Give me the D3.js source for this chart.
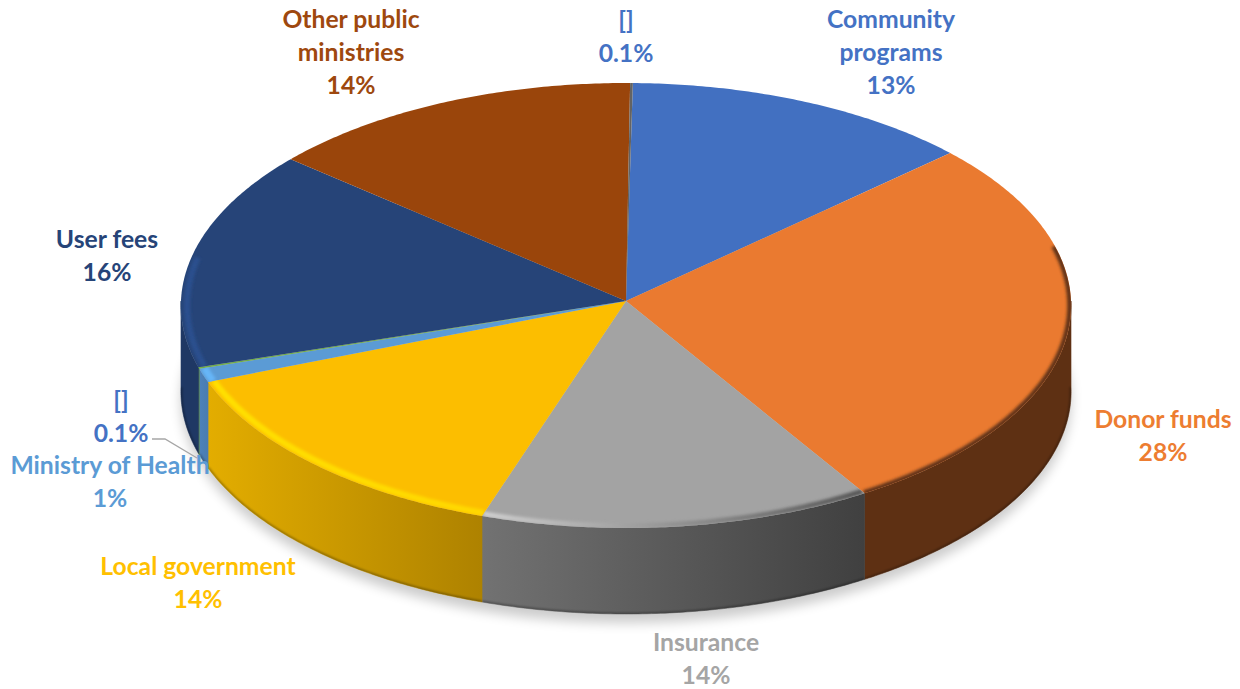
<!DOCTYPE html>
<html>
<head>
<meta charset="utf-8">
<title>Funding sources</title>
<script src="https://cdn.jsdelivr.net/npm/d3@7/dist/d3.min.js"></script>
<style>
html,body{margin:0;padding:0;background:#fff;}
svg{display:block;}
text{font-family:Lato,"Open Sans",sans-serif;font-weight:700;font-size:24.7px;text-anchor:middle;}
</style>
</head>
<body>
<svg id="chart" width="1240" height="689"></svg>
<script>
// Funding shares, clockwise from the top of the disc
const sources = ["Community programs","Donor funds","Insurance","Local government","Ministry of Health","[]","User fees","Other public ministries","[]"];
const shares = [13,28,14,14,1,0.1,16,14,0.1];
const topColors = ["#4270c1","#ea7a30","#a3a3a3","#fcbe00","#5b9bd5","#70ad47","#264478","#9a450b","#636363"];
const sideLeft = ["#2b4a80","#5e3013","#727272","#e3ad00","#4d82bb","#4f7c33","#1f3864","#5f2c09","#3c3c3c"];
const sideRight = ["#2b4a80","#5e3013","#404040","#ae8200","#4a7cb0","#4f7c33","#1f3864","#5f2c09","#3c3c3c"];
const labelColors = ["#4472c4","#ed7d31","#a5a5a5","#ffc000","#5b9bd5","#4472c4","#264478","#9e480e","#4472c4"];
const labelLines = [["Community","programs"],["Donor funds"],["Insurance"],["Local government"],["Ministry of Health"],["[]"],["User fees"],["Other public","ministries"],["[]"]];

// Centre of each label block: x and the y of its first line
const labelAnchors = [[891,19],[1163,419],[706,642],[198,566],[110,465],[121,400],[107,239],[351,19],[626,20]];
const lineStep = 32.8;

const apex = {x:626, y:301};
const radiusX = 445, radiusY = 222.4, tilt = 0.0202, depth = 86;
const startAngle = 0.9 * Math.PI / 180;

const svg = d3.select("#chart");
const defs = svg.append("defs");

// Perspective view of a flat disc: angle clockwise from the far edge, r as a fraction of the rim
function project(angle, r = 1, drop = 0) {
  const across = r * Math.sin(angle), along = r * Math.cos(angle);
  const w = 1 + tilt * along;
  return [apex.x + radiusX * across / w, apex.y - radiusY * along / w + drop];
}
function arcPoints(a0, a1, r = 1, drop = 0) {
  const n = Math.max(2, Math.ceil(Math.abs(a1 - a0) / 0.01));
  return d3.range(n + 1).map(i => project(a0 + (a1 - a0) * i / n, r, drop));
}
const line = d3.line();

const arcs = d3.pie().sort(null).value(d => d)
  .startAngle(startAngle).endAngle(startAngle + 2 * Math.PI)(shares);

function blur(id, sd) {
  defs.append("filter").attr("id", id)
    .attr("filterUnits", "userSpaceOnUse").attr("x", 0).attr("y", 0).attr("width", 1240).attr("height", 689)
    .append("feGaussianBlur").attr("stdDeviation", sd);
}
blur("soft1", 1);
blur("soft2", 1.8);
blur("shadow", 6);

// Soft shadow cast under the disc
svg.append("path")
  .attr("d", line(arcPoints(0, 2 * Math.PI, 1, depth)) + "Z")
  .attr("transform", "translate(0,9)")
  .attr("fill", "#000").attr("opacity", 0.2).attr("filter", "url(#shadow)");

// Vertical wall of the disc, limited to the near half
const nearFrom = Math.PI / 2, nearTo = 3 * Math.PI / 2;
const walls = svg.append("g");
arcs.forEach((d, i) => {
  const a0 = Math.max(d.startAngle, nearFrom), a1 = Math.min(d.endAngle, nearTo);
  if (a1 <= a0) return;
  const upper = arcPoints(a0, a1), lower = arcPoints(a1, a0, 1, depth);
  const gid = "wall" + i;
  const g = defs.append("linearGradient").attr("id", gid).attr("gradientUnits", "userSpaceOnUse")
    .attr("x1", d3.min(upper, p => p[0])).attr("x2", d3.max(upper, p => p[0])).attr("y1", 0).attr("y2", 0);
  g.append("stop").attr("offset", 0).attr("stop-color", sideLeft[i]);
  g.append("stop").attr("offset", 1).attr("stop-color", sideRight[i]);
  const shape = line(upper.concat(lower)) + "Z";
  defs.append("clipPath").attr("id", "wallclip" + i).append("path").attr("d", shape);
  walls.append("path").attr("d", shape).attr("fill", `url(#${gid})`)
    .attr("stroke", `url(#${gid})`).attr("stroke-width", 0.6);
  // Darkened lower edge of the wall
  walls.append("path").attr("d", line(lower)).attr("fill", "none")
    .attr("stroke", "#000").attr("stroke-opacity", 0.3).attr("stroke-width", 3)
    .attr("filter", "url(#soft1)").attr("clip-path", `url(#wallclip${i})`);
});

// Top face slices
const faces = svg.append("g");
arcs.forEach((d, i) => {
  const shape = "M" + apex.x + "," + apex.y + "L" + line(arcPoints(d.startAngle, d.endAngle)).slice(1) + "Z";
  defs.append("clipPath").attr("id", "face" + i).append("path").attr("d", shape);
  faces.append("path").attr("d", shape).attr("fill", topColors[i]);
});

// Rounded rim lighting, one band per slice: slice index, inset, width, colours
const rimIndex = [1, 2, 3, 4, 5, 6];
const rimInset = [0.003, 0.01, 0.014, 0.012, 0, 0.014];
const rimWidth = [5, 5, 6, 7, 3, 6];
const rimLeft = ["#5e3013", "#d0d0d0", "#ffe000", "#66b6f8", "#70ad47", "#2a4f8e"];
const rimRight = ["#5e3013", "#555555", "#ffd800", "#66b6f8", "#70ad47", "#2a4f8e"];
const rims = svg.append("g");
rimIndex.forEach((i, k) => {
  const d = arcs[i];
  const a0 = Math.max(d.startAngle, nearFrom - 0.25), a1 = Math.min(d.endAngle, nearTo + 0.2);
  const pts = arcPoints(a0, a1, 1 - rimInset[k]);
  const gid = "rim" + i;
  const g = defs.append("linearGradient").attr("id", gid).attr("gradientUnits", "userSpaceOnUse")
    .attr("x1", d3.min(pts, p => p[0])).attr("x2", d3.max(pts, p => p[0])).attr("y1", 0).attr("y2", 0);
  g.append("stop").attr("offset", 0).attr("stop-color", rimLeft[k]);
  g.append("stop").attr("offset", 1).attr("stop-color", rimRight[k]);
  rims.append("g").attr("clip-path", `url(#face${i})`)
    .append("path").attr("d", line(pts)).attr("fill", "none")
    .attr("stroke", `url(#${gid})`).attr("stroke-width", rimWidth[k])
    .attr("filter", k === 4 ? null : "url(#soft2)");
});

// Leader line for the small slice on the left
const leader = [[152,439],[165,439],[197,458]];
svg.append("path").attr("d", line(leader)).attr("fill", "none")
  .attr("stroke", "#a6a6a6").attr("stroke-width", 1.3);

// Data labels: name lines followed by the share
const labels = svg.append("g");
shares.forEach((v, i) => {
  const lines = labelLines[i].concat([v + "%"]);
  const [cx, cy] = labelAnchors[i];
  lines.forEach((t, j) => {
    labels.append("text").attr("x", cx).attr("y", cy + j * lineStep + 9)
      .attr("fill", labelColors[i]).text(t);
  });
});
</script>
</body>
</html>
